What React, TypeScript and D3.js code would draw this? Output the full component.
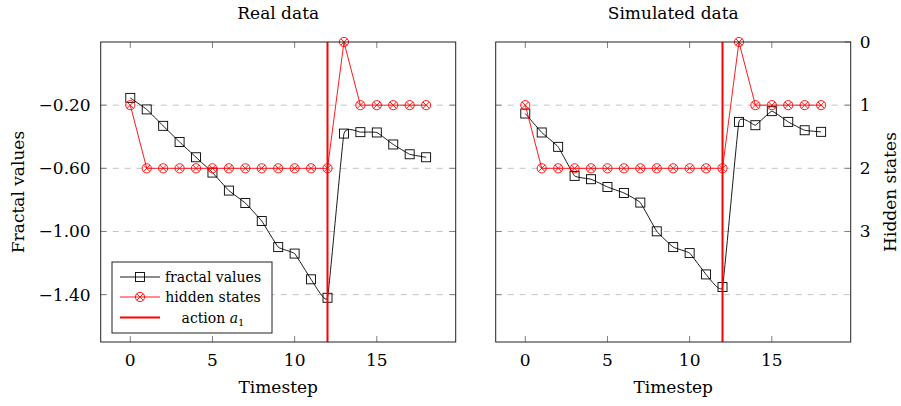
import React from "react";
import * as d3 from "d3";

const timesteps = [0, 1, 2, 3, 4, 5, 6, 7, 8, 9, 10, 11, 12, 13, 14, 15, 16, 17, 18];
const realFractal = [-0.154, -0.227, -0.331, -0.433, -0.53, -0.627, -0.741, -0.82, -0.934, -1.099, -1.14, -1.303, -1.42, -0.38, -0.371, -0.373, -0.449, -0.511, -0.53];
const realHidden = [1, 2, 2, 2, 2, 2, 2, 2, 2, 2, 2, 2, 2, 0, 1, 1, 1, 1, 1];
const simFractal = [-0.253, -0.373, -0.464, -0.648, -0.669, -0.718, -0.756, -0.817, -0.999, -1.099, -1.137, -1.272, -1.352, -0.306, -0.327, -0.238, -0.306, -0.359, -0.369];
const simHidden = [1, 2, 2, 2, 2, 2, 2, 2, 2, 2, 2, 2, 2, 0, 1, 1, 1, 1, 1];
const actionStep = 12;

const xTicks = [0, 5, 10, 15];
const fractalTicks = [-0.2, -0.6, -1.0, -1.4];
const hiddenTicks = [0, 1, 2, 3];

const FONT = "DejaVu Serif";
const FS = 17;
const TOP = 42;
const BOTTOM = 342;
const W = 355;

function Square({ x, y }: { x: number; y: number }) {
  return <rect x={x - 4.5} y={y - 4.5} width={9} height={9} fill="none" stroke="#000" strokeWidth={0.9} />;
}

function OTimes({ x, y }: { x: number; y: number }) {
  const r = 4.6;
  const d = r * Math.SQRT1_2;
  return (
    <g stroke="#f00" strokeWidth={0.9} fill="none">
      <circle cx={x} cy={y} r={r} />
      <line x1={x - d} y1={y - d} x2={x + d} y2={y + d} />
      <line x1={x - d} y1={y + d} x2={x + d} y2={y - d} />
    </g>
  );
}

function Panel(props: {
  left: number;
  title: string;
  fractal: number[];
  hidden: number[];
  leftLabels: boolean;
  rightLabels: boolean;
  legend: boolean;
}) {
  const { left, title, fractal, hidden, leftLabels, rightLabels, legend } = props;
  const right = left + W;

  const x = d3.scaleLinear().domain([-1.8, 19.8]).range([left, right]);
  const yF = d3.scaleLinear().domain([0.2, -1.7]).range([TOP, BOTTOM]);
  const yH = d3.scaleLinear().domain([0, 4.75]).range([TOP, BOTTOM]);

  const fLine = d3
    .line<number>()
    .x((_, i) => x(timesteps[i]))
    .y((d) => yF(d))
    .curve(d3.curveCardinal.tension(0.7));
  const hLine = d3
    .line<number>()
    .x((_, i) => x(timesteps[i]))
    .y((d) => yH(d));

  const cx = (left + right) / 2;

  return (
    <g>
      <text x={cx} y={19} textAnchor="middle" fontSize={FS}>{title}</text>

      {/* grid */}
      {fractalTicks.map((t) => (
        <line key={"g" + t} x1={left} x2={right} y1={yF(t)} y2={yF(t)} stroke="#c4c4c4" strokeDasharray="6,6" />
      ))}

      {/* ticks */}
      <g stroke="#808080" strokeWidth={1}>
        {xTicks.map((t) => (
          <g key={"xt" + t}>
            <line x1={x(t)} x2={x(t)} y1={BOTTOM} y2={BOTTOM - 6} />
            <line x1={x(t)} x2={x(t)} y1={TOP} y2={TOP + 6} />
          </g>
        ))}
        {fractalTicks.map((t) => (
          <line key={"yl" + t} x1={left} x2={left + 6} y1={yF(t)} y2={yF(t)} />
        ))}
        {(rightLabels ? hiddenTicks : fractalTicks.map((t) => yH.invert(yF(t)))).map((t) => (
          <line key={"yr" + t} x1={right} x2={right - 6} y1={yH(t)} y2={yH(t)} />
        ))}
      </g>

      {/* series */}
      <path d={fLine(fractal) || ""} fill="none" stroke="#000" strokeWidth={0.9} />
      {fractal.map((v, i) => (
        <Square key={"s" + i} x={x(timesteps[i])} y={yF(v)} />
      ))}
      <path d={hLine(hidden) || ""} fill="none" stroke="#f00" strokeWidth={0.9} />
      {hidden.map((v, i) => (
        <OTimes key={"h" + i} x={x(timesteps[i])} y={yH(v)} />
      ))}
      <line x1={x(actionStep)} x2={x(actionStep)} y1={TOP} y2={BOTTOM} stroke="#f00" strokeWidth={2} />

      {/* frame */}
      <rect x={left} y={TOP} width={W} height={BOTTOM - TOP} fill="none" stroke="#222" strokeWidth={1} />

      {/* tick labels */}
      {xTicks.map((t) => (
        <text key={"xl" + t} x={x(t)} y={366} textAnchor="middle" fontSize={FS}>{t}</text>
      ))}
      <text x={cx} y={393} textAnchor="middle" fontSize={FS}>Timestep</text>

      {leftLabels &&
        fractalTicks.map((t) => (
          <text key={"fl" + t} x={left - 10} y={yF(t) + 6} textAnchor="end" fontSize={FS}>
            {"\u2212" + Math.abs(t).toFixed(2)}
          </text>
        ))}
      {leftLabels && (
        <text transform={`translate(24,${(TOP + BOTTOM) / 2}) rotate(-90)`} textAnchor="middle" fontSize={FS}>
          Fractal values
        </text>
      )}
      {rightLabels &&
        hiddenTicks.map((t) => (
          <text key={"hl" + t} x={right + 9} y={yH(t) + 6} textAnchor="start" fontSize={FS}>{t}</text>
        ))}
      {rightLabels && (
        <text transform={`translate(896,${(TOP + BOTTOM) / 2}) rotate(-90)`} textAnchor="middle" fontSize={FS}>
          Hidden states
        </text>
      )}

      {legend && (
        <g>
          <rect x={112} y={262} width={160} height={71} fill="#fff" stroke="#222" strokeWidth={1} />
          <line x1={120} x2={160} y1={277} y2={277} stroke="#000" strokeWidth={0.9} />
          <Square x={140} y={277} />
          <text x={213} y={282} textAnchor="middle" fontSize={14}>fractal values</text>
          <line x1={120} x2={160} y1={297} y2={297} stroke="#f00" strokeWidth={0.9} />
          <OTimes x={140} y={297} />
          <text x={213} y={302} textAnchor="middle" fontSize={14}>hidden states</text>
          <line x1={120} x2={160} y1={317.5} y2={317.5} stroke="#f00" strokeWidth={2} />
          <text x={213} y={322.5} textAnchor="middle" fontSize={14}>
            action <tspan fontStyle="italic">a</tspan>
            <tspan fontSize={10} dy={3}>1</tspan>
          </text>
        </g>
      )}
    </g>
  );
}

export default function App() {
  return (
    <svg
      width={901}
      height={406}
      fontFamily={FONT}
      style={{ position: "absolute", left: 0, top: 0, background: "#fff" }}
    >
      <Panel left={100.7} title="Real data" fractal={realFractal} hidden={realHidden} leftLabels rightLabels={false} legend />
      <Panel left={495.7} title="Simulated data" fractal={simFractal} hidden={simHidden} leftLabels={false} rightLabels legend={false} />
    </svg>
  );
}
